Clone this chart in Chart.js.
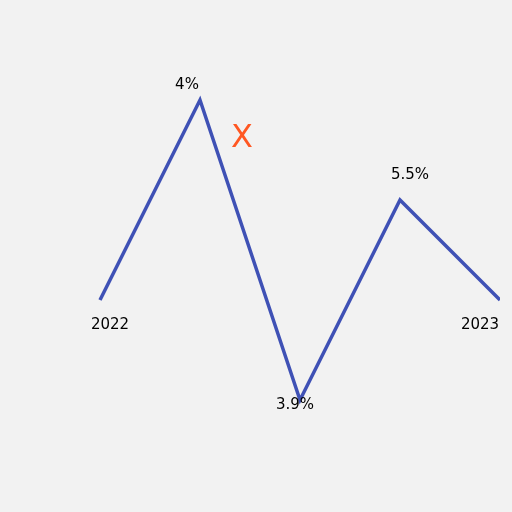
<!DOCTYPE html>
<html>
<head>
<meta charset="utf-8">
<script src="https://cdn.jsdelivr.net/npm/chart.js@4"></script>
<style>
  html, body { margin: 0; padding: 0; background: #f2f2f2; }
  #wrap { width: 512px; height: 512px; }
</style>
</head>
<body>
<div id="wrap"><canvas id="chart"></canvas></div>
<script>
const steps = [1, 2, 3, 4, 5];
const values = [2, 4, 1, 3, 2];
const pointLabels = ["2022", "4%", "3.9%", "5.5%", "2023"];
const markText = "X";

// label offsets (px) relative to each point
const labelOffsets = [[10, 25], [-13, -15], [-5, 5], [10, -25], [-20, 25]];

const labelPlugin = {
  id: "pointLabels",
  afterDatasetsDraw(chart) {
    const { ctx, scales } = chart;
    ctx.save();
    ctx.font = "15px 'DejaVu Sans'";
    ctx.fillStyle = "#000";
    ctx.textAlign = "center";
    ctx.textBaseline = "middle";
    steps.forEach((s, i) => {
      const x = scales.x.getPixelForValue(s) + labelOffsets[i][0];
      const y = scales.y.getPixelForValue(values[i]) + labelOffsets[i][1];
      ctx.fillText(pointLabels[i], x, y);
    });
    ctx.font = "32px 'DejaVu Sans'";
    ctx.fillStyle = "#ff5722";
    ctx.fillText(markText, 242, 139);
    ctx.restore();
  }
};

new Chart(document.getElementById("chart"), {
  type: "line",
  data: {
    datasets: [{
      data: steps.map((s, i) => ({ x: s, y: values[i] })),
      borderColor: "#3f51b5",
      borderWidth: 3.5,
      pointRadius: 0,
      fill: false,
      tension: 0
    }]
  },
  options: {
    responsive: true,
    maintainAspectRatio: false,
    animation: false,
    layout: { padding: { left: 0, top: 0, right: 12, bottom: 12 } },
    plugins: { legend: { display: false }, tooltip: { enabled: false } },
    scales: {
      x: { type: "linear", min: 0, max: 5, display: false },
      y: { min: 0, max: 5, display: false }
    }
  },
  plugins: [labelPlugin]
});
</script>
</body>
</html>
